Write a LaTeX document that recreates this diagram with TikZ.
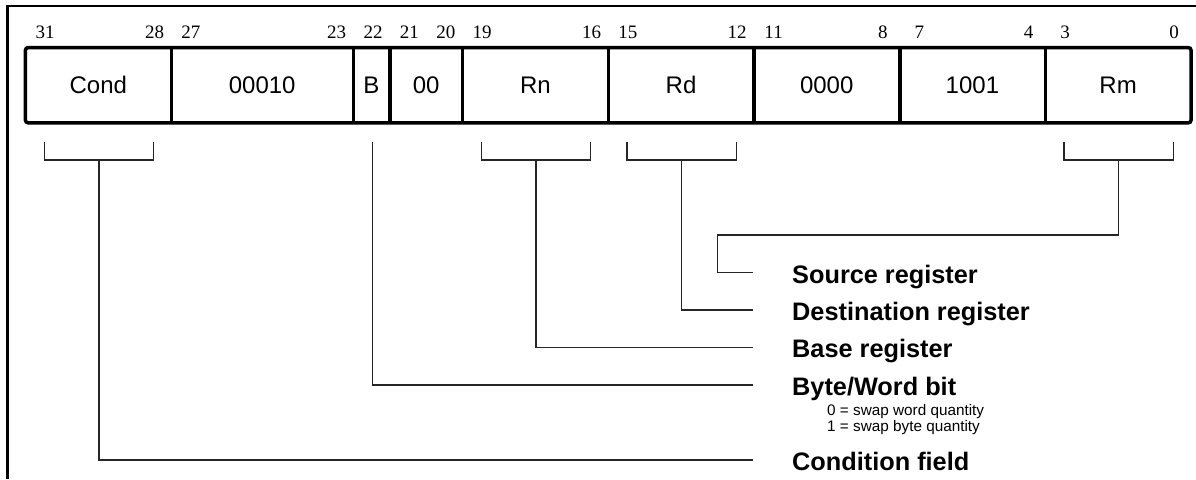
\documentclass[tikz,border=0pt]{standalone}
\usepackage{fontspec}
\setmainfont{Liberation Serif}
\newfontfamily\arialf{Liberation Sans}
\begin{document}
\begin{tikzpicture}[x=1pt,y=-1pt,
  frameline/.style={line width=2.2pt, black},
  boxline/.style={line width=3.5pt, black},
  conn/.style={line width=1.3pt, black!85},
  cell/.style={inner sep=0pt, minimum height=75pt, font=\arialf\fontsize{24}{24}\selectfont, text height=17pt, text depth=0pt},
  bitlbl/.style={inner sep=0pt, anchor=base, font=\fontsize{19}{19}\selectfont},
  fieldlbl/.style={inner sep=0pt, anchor=base west, font=\arialf\bfseries\fontsize{25.3}{25.3}\selectfont},
  notelbl/.style={inner sep=0pt, anchor=base west, font=\arialf\fontsize{15.3}{15.3}\selectfont}]
\useasboundingbox (0,0) rectangle (1196,479);
% outer frame
\draw[frameline] (6,6) -- (1196,6);
\draw[line width=3pt] (7.5,5) -- (7.5,479);
% cells (x0=25.5, bit width 36.42)
\node[cell, minimum width=145.68pt] (cond) at (98.34,85.2) {Cond};
\node[cell, minimum width=182.1pt]  (op)   at (262.23,85.2) {00010};
\node[cell, minimum width=36.42pt]  (bb)   at (371.49,85.2) {B};
\node[cell, minimum width=72.84pt]  (zz)   at (426.12,85.2) {00};
\node[cell, minimum width=145.68pt] (rn)   at (535.38,85.2) {Rn};
\node[cell, minimum width=145.68pt] (rd)   at (681.06,85.2) {Rd};
\node[cell, minimum width=145.68pt] (zf)   at (826.74,85.2) {0000};
\node[cell, minimum width=145.68pt] (nn)   at (972.42,85.2) {1001};
\node[cell, minimum width=145.68pt] (rm)   at (1118.10,85.2) {Rm};
\draw[boxline, rounded corners=3pt] (cond.north west) rectangle (rm.south east);
\foreach \c in {cond,op,bb,zz,rn,rd,zf,nn}
  \draw[boxline] (\c.north east) -- (\c.south east);
% bit numbers
\foreach \n/\x in {31/45.2, 28/154.5, 27/190.9, 23/336.6, 22/373.0, 21/409.4, 20/445.8, 19/482.2, 16/591.5, 15/627.9, 12/737.2, 11/773.6, 8/882.9, 7/919.3, 4/1028.5, 3/1065.0, 0/1174.2}
  \node[bitlbl] (b\n) at (\x,38.5) {\n};
% field labels
\node[fieldlbl] (src)  at (792,283.3) {Source register};
\node[fieldlbl] (dst)  at (792,320.0) {Destination register};
\node[fieldlbl] (base) at (792,357.7) {Base register};
\node[fieldlbl] (bw)   at (792,395.0) {Byte/Word bit};
\node[notelbl]  (n0)   at (827,415.0) {0 = swap word quantity};
\node[notelbl]  (n1)   at (827,431.8) {1 = swap byte quantity};
\node[fieldlbl] (cf)   at (792,470.0) {Condition field};
% connector end points
\coordinate (srcend)  at (753,272.3);
\coordinate (dstend)  at (753,310.0);
\coordinate (baseend) at (753,347.3);
\coordinate (bwend)   at (753,385.0);
\coordinate (cfend)   at (753,460.0);
% brackets and stems
\coordinate (condstem) at (98.9,160);
\coordinate (bstem)    at (372.2,142);
\coordinate (rnstem)   at (535.9,160);
\coordinate (rdstem)   at (681.6,160);
\coordinate (rmstem)   at (1118.6,160);
\draw[conn] (44.2,142) -- (44.2,160) -- (153.5,160) -- (153.5,142);
\draw[conn] (481.2,142) -- (481.2,160) -- (590.5,160) -- (590.5,142);
\draw[conn] (626.9,142) -- (626.9,160) -- (736.2,160) -- (736.2,142);
\draw[conn] (1064.0,142) -- (1064.0,160) -- (1173.2,160) -- (1173.2,142);
% connectors
\draw[conn] (rmstem) -- (rmstem |- 0,235) -- (717.3,235) -- (717.3,272.3) -- (srcend);
\draw[conn] (rdstem) |- (dstend);
\draw[conn] (rnstem) |- (baseend);
\draw[conn] (bstem) |- (bwend);
\draw[conn] (condstem) |- (cfend);
\end{tikzpicture}
\end{document}
